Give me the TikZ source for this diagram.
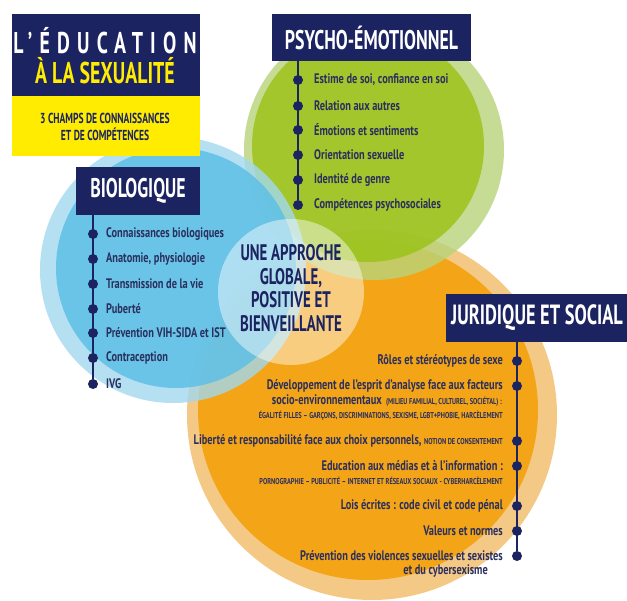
\documentclass[tikz,border=0pt]{standalone}
\usepackage{fontspec}
\setmainfont{PT Sans}[FakeStretch=0.75]
\newfontfamily\narrow{PT Sans}[FakeStretch=0.66]
\definecolor{navy}{HTML}{1B2361}
\definecolor{ink}{HTML}{2A2F5E}
\definecolor{titleyellow}{HTML}{FFEC00}
\definecolor{greenin}{HTML}{9CC31A}
\definecolor{greenout}{HTML}{B8D47A}
\definecolor{bluein}{HTML}{5EC0E6}
\definecolor{blueout}{HTML}{A2D9EF}
\definecolor{orangein}{HTML}{F3A10C}
\definecolor{orangeout}{HTML}{F2C070}
\newcommand{\fs}[1]{\fontsize{#1}{#1}\selectfont}
\begin{document}
\begin{tikzpicture}[x=1pt,y=-1pt,
  head/.style={fill=navy,inner sep=0pt},
  headtext/.style={text=white,font=\narrow\bfseries\fs{27},inner sep=0pt},
  dot/.style={circle,fill=navy,inner sep=0pt,minimum size=10pt},
  item/.style={text=ink,font=\bfseries\fs{13.8},anchor=west,inner sep=0pt},
  ritem/.style={item,anchor=east},
  tiny/.style={ritem,font=\bfseries\fs{8.5}}]
\useasboundingbox (0,0) rectangle (627,601) ;
\fill[white] (0,0) rectangle (627,601) ;

% the three fields
\fill[orangeout,fill opacity=0.85] (372,415) circle (185) ;
\fill[orangein,fill opacity=0.9] (368,410) circle (170) ;
\fill[greenout,fill opacity=0.8] (374,150) circle (130) ;
\fill[greenin,fill opacity=0.85] (368,146) circle (116) ;
\fill[blueout,fill opacity=0.8] (173,270) circle (133) ;
\fill[bluein,fill opacity=0.85] (176,268) circle (120) ;
\fill[white,fill opacity=0.45] (291,292) circle (73) ;

% title
\fill[navy] (12,14) rectangle (200,96) ;
\fill[titleyellow] (12,96) rectangle (200,156) ;
\node[text=white,font=\narrow\bfseries\fs{30}\addfontfeature{LetterSpace=24}] (titre) at (105,41) {L’ÉDUCATION} ;
\node[text=titleyellow,font=\narrow\bfseries\fs{30}] (sousTitre) at (105,71) {À LA SEXUALITÉ} ;
\node[text=navy,font=\narrow\bfseries\fs{14.5},align=center,inner sep=0pt] (champs) at (105,127) {3 CHAMPS DE CONNAISSANCES\\[2pt]ET DE COMPÉTENCES} ;

% psycho-emotionnel
\node[head,minimum width=199,minimum height=47] (psy) at (371.5,37.5) {} ;
\node[headtext] (psyTexte) at (psy) {PSYCHO-ÉMOTIONNEL} ;
\node[dot] (p1) at (298,80) {} ;
\node[dot] (p2) at (298,106) {} ;
\node[dot] (p3) at (298,130) {} ;
\node[dot] (p4) at (298,155) {} ;
\node[dot] (p5) at (298,180) {} ;
\node[dot] (p6) at (298,205) {} ;
\draw[navy,line width=1.3pt] (psy.south -| p1) -- (p6) ;
\node[item] at (314,80) {Estime de soi, confiance en soi} ;
\node[item] at (314,106) {Relation aux autres} ;
\node[item] at (314,130) {Émotions et sentiments} ;
\node[item] at (314,155) {Orientation sexuelle} ;
\node[item] at (314,180) {Identité de genre} ;
\node[item] at (314,205) {Compétences psychosociales} ;

% biologique
\node[head,minimum width=124,minimum height=48] (bio) at (138,191) {} ;
\node[headtext] (bioTexte) at (bio) {BIOLOGIQUE} ;
\node[dot] (b1) at (93,234) {} ;
\node[dot] (b2) at (93,259) {} ;
\node[dot] (b3) at (93,284) {} ;
\node[dot] (b4) at (93,309) {} ;
\node[dot] (b5) at (93,333) {} ;
\node[dot] (b6) at (93,358) {} ;
\node[dot] (b7) at (93,384) {} ;
\draw[navy,line width=1.3pt] (bio.south -| b1) -- (b7) ;
\node[item] at (106,234) {Connaissances biologiques} ;
\node[item] at (106,259) {Anatomie, physiologie} ;
\node[item] at (106,284) {Transmission de la vie} ;
\node[item] at (106,309) {Puberté} ;
\node[item] at (106,333) {Prévention VIH-SIDA et IST} ;
\node[item] at (106,358) {Contraception} ;
\node[item] at (106,384) {IVG} ;

% centre
\node[text=navy,font=\narrow\bfseries\fs{22.5},align=center,inner sep=0pt] (centre) at (291,288) {UNE APPROCHE\\[1pt]GLOBALE,\\[1pt]POSITIVE ET\\[1pt]BIENVEILLANTE} ;

% juridique et social
\node[head,anchor=west,minimum width=200,minimum height=48] (jur) at (446,318) {} ;
\node[headtext,anchor=west,font=\narrow\bfseries\fs{27.8}] (jurTexte) at ([xshift=5]jur.west) {JURIDIQUE ET SOCIAL} ;
\node[dot] (j1) at (517,361) {} ;
\node[dot] (j2) at (517,386) {} ;
\node[dot] (j3) at (517,441) {} ;
\node[dot] (j4) at (517,466) {} ;
\node[dot] (j5) at (517,506) {} ;
\node[dot] (j6) at (517,531) {} ;
\node[dot] (j7) at (517,556) {} ;
\draw[navy,line width=1.3pt] (jur.south -| j1) -- (j7) ;
\node[ritem] at (503,361) {Rôles et stéréotypes de sexe} ;
\node[ritem] at (503,386) {Développement de l'esprit d'analyse face aux facteurs} ;
\node[ritem] at (502,401) {socio-environnementaux {\fs{8.5} (MILIEU FAMILIAL, CULTUREL, SOCIÉTAL) :}} ;
\node[tiny] at (503,416) {ÉGALITÉ FILLES – GARÇONS, DISCRIMINATIONS, SEXISME, LGBT+PHOBIE, HARCÈLEMENT} ;
\node[ritem] at (503,441) {Liberté et responsabilité face aux choix personnels, {\fs{8.5}NOTION DE CONSENTEMENT}} ;
\node[ritem] at (503,466) {Education aux médias et à l'information :} ;
\node[tiny] at (503,481) {PORNOGRAPHIE – PUBLICITÉ – INTERNET ET RÉSEAUX SOCIAUX - CYBERHARCÈLEMENT} ;
\node[ritem] at (503,506) {Lois écrites : code civil et code pénal} ;
\node[ritem] at (503,531) {Valeurs et normes} ;
\node[ritem] at (503,556) {Prévention des violences sexuelles et sexistes} ;
\node[ritem] at (488,571) {et du cybersexisme} ;
\end{tikzpicture}
\end{document}
